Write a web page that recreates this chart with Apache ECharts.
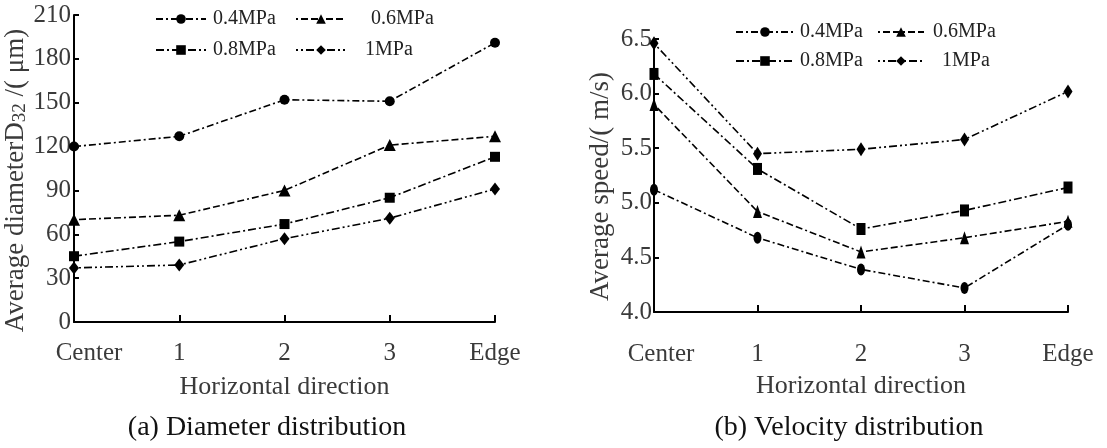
<!DOCTYPE html>
<html>
<head>
<meta charset="utf-8">
<script src="https://cdn.jsdelivr.net/npm/echarts@6/dist/echarts.min.js"></script>
<style>
  html, body { margin: 0; padding: 0; background: #fff; }
  #chart { width: 1107px; height: 448px; }
</style>
</head>
<body>
<div id="chart"></div>
<script>
// Horizontal measuring positions
const positions = ['Center', '1', '2', '3', 'Edge'];

// Sauter mean diameter D32 (μm) per pressure
const diameter04 = [120, 127, 152, 151, 191];
const diameter06 = [70, 73, 90, 121, 127];
const diameter08 = [45, 55, 67, 85, 113];
const diameter10 = [37, 39, 57, 71, 91];

// Average droplet speed (m/s) per pressure
const speed04 = [5.12, 4.68, 4.39, 4.22, 4.80];
const speed06 = [5.90, 4.92, 4.55, 4.68, 4.83];
const speed08 = [6.18, 5.31, 4.76, 4.93, 5.14];
const speed10 = [6.46, 5.45, 5.49, 5.58, 6.02];

const pressures = ['0.4MPa', '0.6MPa', '0.8MPa', '1MPa'];
const markers = ['circle', 'triangle', 'rect', 'diamond'];
const dashes = [[7, 3, 2, 3], [2, 3, 7, 3, 7, 3], [8, 3, 2, 3], [2, 3, 2, 3, 8, 3]];

const serif = 'Liberation Serif';
const tickColor = '#3a3a3a';

function makeSeries(values, idx, axisIdx, size) {
  return {
    name: pressures[idx],
    type: 'line',
    xAxisIndex: axisIdx,
    yAxisIndex: axisIdx,
    data: values,
    symbol: markers[idx],
    symbolSize: size[idx],
    showAllSymbol: true,
    lineStyle: { color: '#000', width: 1.6, type: dashes[idx] },
    itemStyle: { color: '#000' },
    emphasis: { disabled: true },
    animation: false
  };
}

const leftSizes = [10, 12, 10, [10, 13]];
const rightSizes = [[8, 12], [9, 13], [9, 12], [9, 14]];

function legendBox(names, left, top, gap, itemWidth, pads) {
  return {
    orient: 'vertical',
    left: left,
    top: top,
    itemGap: gap,
    itemWidth: itemWidth,
    itemHeight: 12,
    selectedMode: false,
    data: names.map((n, i) => ({ name: n, textStyle: { padding: [0, 0, 0, pads[i]] } })),
    textStyle: { fontFamily: serif, fontSize: 20, color: '#222', lineHeight: 20 }
  };
}

const xAxisCommon = {
  type: 'category',
  data: positions,
  boundaryGap: false,
  axisLine: { lineStyle: { color: '#000', width: 2 } },
  axisTick: { inside: true, length: 7, lineStyle: { color: '#000', width: 2 } },
  nameLocation: 'middle',
  nameTextStyle: { fontFamily: serif, fontSize: 26, color: tickColor },
  name: 'Horizontal direction'
};

function xLabels(margin, centerPad) {
  return {
    interval: 0,
    hideOverlap: false,
    fontFamily: serif, fontSize: 25, color: tickColor, margin: margin,
    formatter: v => v === 'Center' ? '{c|' + v + '}' : v,
    rich: { c: { fontFamily: serif, fontSize: 25, color: tickColor, padding: [0, 0, 0, centerPad] } }
  };
}

const option = {
  animation: false,
  backgroundColor: '#fff',
  title: [
    { text: '(a) Diameter distribution', left: 262, top: 409, textAlign: 'center',
      textStyle: { fontFamily: serif, fontSize: 28, fontWeight: 'normal', color: '#111' } },
    { text: '(b) Velocity distribution', left: 844, top: 409, textAlign: 'center',
      textStyle: { fontFamily: serif, fontSize: 28, fontWeight: 'normal', color: '#111' } }
  ],
  legend: [
    legendBox(['0.4MPa', '0.8MPa'], 150, 4, 11, 50, [2, 2]),
    legendBox(['0.6MPa', '1MPa'], 290, 4, 11, 50, [20, 14]),
    legendBox(['0.4MPa', '0.8MPa'], 730, 17, 9, 58, [1, 1]),
    legendBox(['0.6MPa', '1MPa'], 872, 17, 9, 46, [4, 13])
  ],
  grid: [
    { left: 74, right: 612, top: 15, bottom: 126 },
    { left: 654, right: 39, top: 39, bottom: 136 }
  ],
  xAxis: [
    Object.assign({}, xAxisCommon, { gridIndex: 0, nameGap: 52, axisLabel: xLabels(19, 30) }),
    Object.assign({}, xAxisCommon, { gridIndex: 1, nameGap: 61, axisLabel: xLabels(30, 14) })
  ],
  yAxis: [
    {
      type: 'value', gridIndex: 0, min: 0, max: 210, interval: 30,
      splitLine: { show: false },
      axisLine: { show: true, lineStyle: { color: '#000', width: 2 } },
      axisTick: { show: true, inside: true, length: 5, lineStyle: { color: '#000', width: 2 } },
      axisLabel: { fontFamily: serif, fontSize: 25, color: tickColor, margin: 3 },
      name: 'Average diameterD{sub|32} /( μm)',
      nameLocation: 'middle',
      nameGap: 41,
      nameTextStyle: {
        fontFamily: serif, fontSize: 27, color: tickColor, padding: [0, 0, 0, -24],
        rich: { sub: { fontFamily: serif, fontSize: 19, color: tickColor, padding: [8, 0, 0, 0] } }
      }
    },
    {
      type: 'value', gridIndex: 1, min: 4.0, max: 6.5, interval: 0.5,
      splitLine: { show: false },
      axisLine: { show: true, lineStyle: { color: '#000', width: 2 } },
      axisTick: { show: true, inside: true, length: 5, lineStyle: { color: '#000', width: 2 } },
      axisLabel: { fontFamily: serif, fontSize: 25, color: tickColor, margin: 2,
        formatter: v => v.toFixed(1) },
      name: 'Average speed/( m/s)',
      nameLocation: 'middle',
      nameGap: 40,
      nameTextStyle: { fontFamily: serif, fontSize: 27, color: tickColor, padding: [0, 0, 0, -22] }
    }
  ],
  series: [
    makeSeries(diameter04, 0, 0, leftSizes),
    makeSeries(diameter06, 1, 0, leftSizes),
    makeSeries(diameter08, 2, 0, leftSizes),
    makeSeries(diameter10, 3, 0, leftSizes),
    makeSeries(speed04, 0, 1, rightSizes),
    makeSeries(speed06, 1, 1, rightSizes),
    makeSeries(speed08, 2, 1, rightSizes),
    makeSeries(speed10, 3, 1, rightSizes)
  ]
};

const chart = echarts.init(document.getElementById('chart'), null, { renderer: 'canvas' });
chart.setOption(option);
</script>
</body>
</html>
